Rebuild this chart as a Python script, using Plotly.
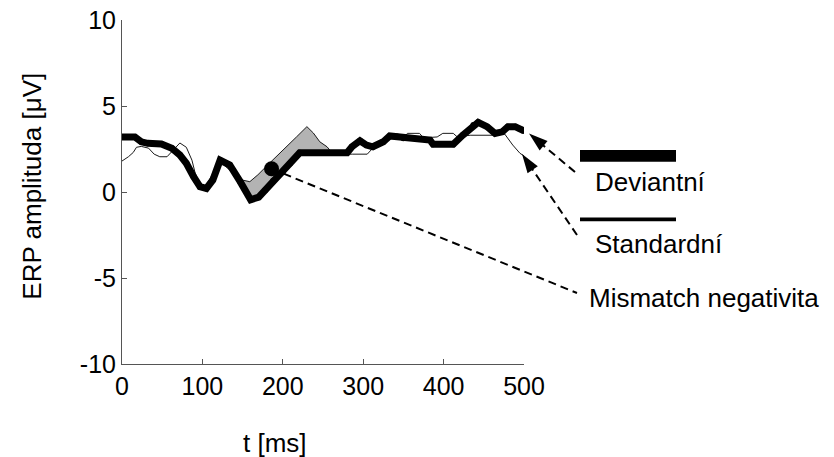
import plotly.graph_objects as go

# ---- ERP waveforms: time (ms) and amplitude (µV) ----
deviant_t = [0, 16, 24, 32, 49, 62, 72, 80, 89, 97, 105, 113, 122, 134, 147,
             160, 170, 178, 188, 200, 209, 221, 280, 286, 296, 304, 312, 325,
             333, 342, 350, 383, 387, 412, 424, 437, 443, 454, 464, 473, 480,
             489, 495, 500]
deviant_uv = [3.2, 3.2, 2.92, 2.83, 2.79, 2.54, 2.15, 1.67, 0.89, 0.31, 0.21,
              0.7, 1.85, 1.57, 0.6, -0.45, -0.3, 0.1, 0.65, 1.15, 1.65, 2.28,
              2.28, 2.63, 2.98, 2.73, 2.63, 2.92, 3.26, 3.22, 3.12, 3.02, 2.77,
              2.77, 3.31, 3.9, 4.05, 3.8, 3.41, 3.5, 3.8, 3.8, 3.66, 3.55]

standard_t = [0, 8, 14, 18, 24, 33, 40, 47, 56, 63, 72, 80, 87, 91, 97, 103,
              109, 122, 132, 143, 149, 159, 169, 184, 205, 217, 230, 238, 246,
              255, 260, 272, 287, 305, 312, 325, 335, 350, 355, 370, 375, 392,
              399, 412, 417, 433, 461, 476, 486, 495, 500]
standard_uv = [1.8, 2.05, 2.3, 2.6, 2.65, 2.55, 2.2, 2.05, 2.05, 2.4, 2.85, 2.6,
               1.85, 1.1, 0.45, 0.25, 0.75, 1.8, 1.35, 0.9, 0.7, 0.6, 1.0, 1.7,
               2.63, 3.2, 3.8, 3.43, 2.92, 2.63, 2.35, 2.2, 2.2, 2.2, 2.55, 2.85,
               3.1, 3.1, 3.41, 3.41, 3.15, 3.2, 3.41, 3.41, 3.2, 3.3, 3.3, 3.37,
               2.73, 2.25, 2.1]

# mismatch negativity: shaded window and its marker point
mmn_window = (143, 260)
mmn_t = [186]
mmn_uv = [1.35]

x_ticks = [0, 100, 200, 300, 400, 500]
y_ticks = [-10, -5, 0, 5, 10]
y_tick_text = ["-10", "-5", "0", "5", "10"]
x_range = [0, 500]
y_range = [-10, 10]

series_names = ["Deviantní", "Standardní"]
mmn_label = "Mismatch negativita"
x_title = "t [ms]"
y_title = "ERP amplituda [μV]"

# ---- page geometry (pixels) ----
W, H = 834, 457
PL, PR, PT, PB = 122, 524, 20, 364          # plot box edges
ms_per_px = (x_range[1] - x_range[0]) / (PR - PL)
uv_per_px = (y_range[1] - y_range[0]) / (PB - PT)

# full-page overlay axis in the same units as the main axes
x2_range = [x_range[0] - PL * ms_per_px, x_range[1] + (W - PR) * ms_per_px]
y2_range = [y_range[0] - (H - PB) * uv_per_px, y_range[1] + PT * uv_per_px]


def to_data(px, py):
    return x_range[0] + (px - PL) * ms_per_px, y_range[1] - (py - PT) * uv_per_px


def px_paper(px, py):
    return px / W, 1 - py / H


FONT = "Liberation Sans, Arial, sans-serif"
fig = go.Figure()

# shaded area between standard and deviant in the MMN window
lo, hi = mmn_window
std_seg = [(t, v) for t, v in zip(standard_t, standard_uv) if lo <= t <= hi]
dev_seg = [(t, v) for t, v in zip(deviant_t, deviant_uv) if lo <= t <= hi]
poly = std_seg + dev_seg[::-1]
fig.add_trace(go.Scatter(
    x=[p[0] for p in poly], y=[p[1] for p in poly],
    fill="toself", fillcolor="#b3b3b3", mode="lines",
    line=dict(width=0), hoverinfo="skip", showlegend=False))

fig.add_trace(go.Scatter(
    x=standard_t, y=standard_uv, mode="lines", name=series_names[1],
    line=dict(color="#1a1a1a", width=1), showlegend=False))

fig.add_trace(go.Scatter(
    x=deviant_t, y=deviant_uv, mode="lines+markers", name=series_names[0],
    line=dict(color="black", width=7),
    marker=dict(color="black", size=6), showlegend=False))

fig.add_trace(go.Scatter(
    x=mmn_t, y=mmn_uv, mode="markers", marker=dict(color="black", size=15),
    cliponaxis=False, showlegend=False))

# dashed pointers (drawn on the full-page overlay axes)
DASH = "8px,5px"
pointer_specs = [
    # (tail px, tip px)
    ((575, 172), (529, 133.5)),
    ((577, 235), (522, 154)),
]
for tail, tip in pointer_specs:
    (tx, ty), (hx, hy) = to_data(*tail), to_data(*tip)
    fig.add_trace(go.Scatter(
        x=[tx, hx], y=[ty, hy], xaxis="x2", yaxis="y2",
        mode="lines+markers",
        line=dict(color="black", width=2, dash=DASH),
        marker=dict(symbol="arrow", size=[0, 20], angleref="previous",
                    color="black", line=dict(width=0), opacity=1),
        showlegend=False, hoverinfo="skip"))

mmn_end = to_data(577, 293)
fig.add_trace(go.Scatter(
    x=[mmn_t[0], mmn_end[0]], y=[mmn_uv[0], mmn_end[1]],
    xaxis="x2", yaxis="y2", mode="lines",
    line=dict(color="black", width=2, dash=DASH),
    showlegend=False, hoverinfo="skip"))

# legend keys
shapes = []
for (y_top, y_bot) in [(150, 161.7), (217.5, 221.3)]:
    x0, y0 = px_paper(580, y_bot)
    x1, y1 = px_paper(676, y_top)
    shapes.append(dict(type="rect", xref="paper", yref="paper",
                       x0=x0, x1=x1, y0=y0, y1=y1,
                       fillcolor="black", line=dict(width=0)))

annotations = []


def add_text(text, px, py, xanchor="left", angle=0):
    x, y = px_paper(px, py)
    annotations.append(dict(text=text, x=x, y=y, xref="paper", yref="paper",
                            xanchor=xanchor, yanchor="middle", showarrow=False,
                            textangle=angle,
                            font=dict(family=FONT, size=26, color="black")))


add_text(series_names[0], 593, 182)
add_text(series_names[1], 593, 244)
add_text(mmn_label, 587, 298)
add_text(x_title, 275, 443, xanchor="center")
add_text(y_title, 31.7, 186, xanchor="center", angle=-90)

axis_common = dict(showgrid=False, zeroline=False, showline=True,
                   linecolor="#555555", linewidth=1, ticks="inside",
                   ticklen=5, tickcolor="#555555", automargin=False,
                   tickfont=dict(family=FONT, size=25, color="black"))

fig.update_layout(
    width=W, height=H, autosize=False,
    margin=dict(l=0, r=0, t=0, b=0, pad=0, autoexpand=False),
    paper_bgcolor="white", plot_bgcolor="rgba(0,0,0,0)",
    xaxis=dict(domain=[PL / W, PR / W], range=x_range, tickvals=x_ticks,
               anchor="y", **axis_common),
    yaxis=dict(domain=[1 - PB / H, 1 - PT / H], range=y_range,
               tickvals=y_ticks, ticktext=y_tick_text, anchor="x",
               **axis_common),
    xaxis2=dict(domain=[0, 1], range=x2_range, anchor="y2", visible=False,
                automargin=False),
    yaxis2=dict(domain=[0, 1], range=y2_range, anchor="x2", visible=False,
                automargin=False),
    shapes=shapes, annotations=annotations, showlegend=False,
)

fig.write_html("out.html")
